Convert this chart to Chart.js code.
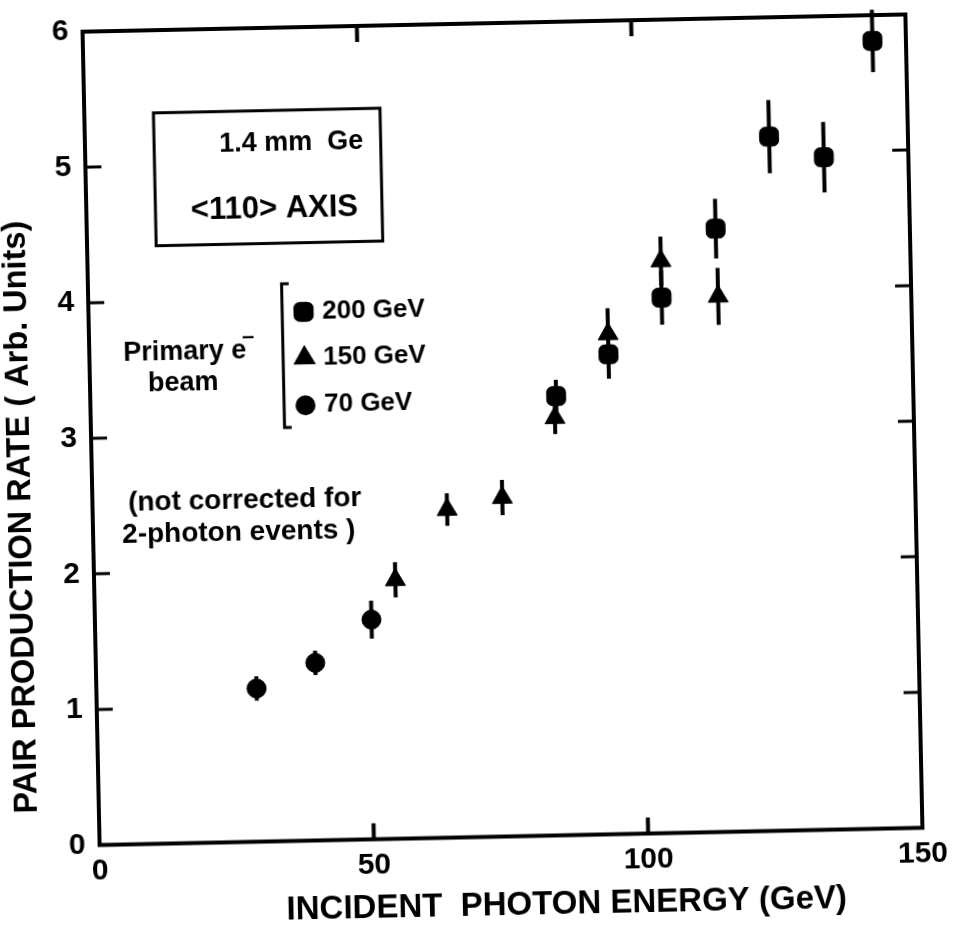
<!DOCTYPE html>
<html><head><meta charset="utf-8">
<script src="https://cdn.jsdelivr.net/npm/chart.js@4.4.1/dist/chart.umd.min.js"></script>
<style>
html,body{margin:0;padding:0;background:#fff;overflow:hidden;}
#wrap{position:absolute;left:0;top:0;width:970px;height:929px;transform:rotate(-1.2deg);transform-origin:502px 430px;}
canvas{display:block;}
</style></head><body>
<div id="wrap"><canvas id="c" width="970" height="929"></canvas></div>
<script>
// ---- data ----
const xTicks = [0, 50, 100, 150];
const yTicks = [0, 1, 2, 3, 4, 5, 6];

const energy200 = [84.9, 94.6, 104.5, 114.6, 124.7, 134.6, 143.9];
const rate200   = [3.24, 3.54, 3.95, 4.45, 5.12, 4.96, 5.81];
const err200    = [0.12, 0.18, 0.20, 0.22, 0.27, 0.26, 0.23];

const energy150 = [54.9, 64.6, 74.7, 84.6, 94.6, 104.5, 114.8];
const rate150   = [1.91, 2.42, 2.50, 3.08, 3.69, 4.22, 3.95];
const err150    = [0.13, 0.12, 0.13, 0.12, 0.19, 0.18, 0.21];

const energy70  = [29.2, 40.0, 50.4];
const rate70    = [1.13, 1.31, 1.62];
const err70     = [0.09, 0.09, 0.14];

const seriesLabels = ['200 GeV', '150 GeV', '70 GeV'];
const xTitle = 'INCIDENT  PHOTON ENERGY (GeV)';
const yTitle = 'PAIR PRODUCTION RATE ( Arb. Units)';

// ---- styling ----
const FONT = "'Liberation Sans', Arial, Helvetica, sans-serif";
const INK = '#000';

function pts(xs, ys){ return xs.map((x,i)=>({x:x, y:ys[i]})); }

const errMap = [err200, err150, err70];

const errorBars = {
  id:'errorBars',
  beforeDatasetsDraw(chart){
    const {ctx, scales:{x, y}} = chart;
    ctx.save();
    ctx.strokeStyle = INK; ctx.lineWidth = 4; ctx.lineCap = 'butt';
    chart.data.datasets.forEach((ds, di)=>{
      const errs = errMap[di];
      ds.data.forEach((p, i)=>{
        const px = x.getPixelForValue(p.x);
        ctx.beginPath();
        ctx.moveTo(px, y.getPixelForValue(p.y - errs[i]));
        ctx.lineTo(px, y.getPixelForValue(p.y + errs[i]));
        ctx.stroke();
      });
    });
    ctx.restore();
  }
};

const frame = {
  id:'frame',
  afterDraw(chart){
    const {ctx, chartArea:a, scales:{x, y}} = chart;
    ctx.save();
    ctx.strokeStyle = INK; ctx.lineWidth = 4; ctx.lineJoin = 'miter';
    ctx.strokeRect(a.left, a.top, a.right - a.left, a.bottom - a.top);
    ctx.lineWidth = 4;
    const L = 16;
    xTicks.forEach(v=>{
      if (v === x.min || v === x.max) return;
      const px = x.getPixelForValue(v);
      ctx.beginPath();
      ctx.moveTo(px, a.bottom); ctx.lineTo(px, a.bottom - L);
      ctx.moveTo(px, a.top); ctx.lineTo(px, a.top + L);
      ctx.stroke();
    });
    ctx.lineWidth = 3;
    yTicks.forEach(v=>{
      if (v === y.min || v === y.max) return;
      const py = y.getPixelForValue(v);
      ctx.beginPath();
      ctx.moveTo(a.left, py); ctx.lineTo(a.left + L, py);
      ctx.moveTo(a.right, py); ctx.lineTo(a.right - L, py);
      ctx.stroke();
    });
    ctx.restore();
  }
};

const notes = {
  id:'notes',
  afterDraw(chart){
    const {ctx, scales:{x, y}} = chart;
    const X = v => x.getPixelForValue(v), Y = v => y.getPixelForValue(v);
    ctx.save();
    ctx.fillStyle = INK; ctx.strokeStyle = INK;
    ctx.textBaseline = 'middle';

    // axis titles
    ctx.font = 'bold 33px ' + FONT;
    ctx.textAlign = 'center';
    ctx.fillText(xTitle, X(84.9), Y(-0.51));
    ctx.font = 'bold 32.5px ' + FONT;
    ctx.save();
    ctx.translate(X(-12.9), Y(2.43));
    ctx.rotate(-Math.PI/2);
    ctx.fillText(yTitle, 0, 0);
    ctx.restore();

    // sample box
    ctx.lineWidth = 3;
    ctx.strokeRect(X(12.6), Y(5.39), X(53.9) - X(12.6), Y(4.41) - Y(5.39));
    ctx.font = 'bold 27px ' + FONT;
    ctx.fillText('1.4 mm  Ge', X(37.6), Y(5.15));
    ctx.font = 'bold 31px ' + FONT;
    ctx.fillText('<110> AXIS', X(34.3), Y(4.66));

    // beam legend
    ctx.lineWidth = 3;
    ctx.beginPath();
    ctx.moveTo(X(36.6), Y(4.11)); ctx.lineTo(X(35.3), Y(4.11));
    ctx.lineTo(X(35.3), Y(3.05)); ctx.lineTo(X(36.6), Y(3.05));
    ctx.stroke();
    const styles = ['rectRounded', 'triangle', 'circle'];
    const radii = [10, 10, 8.5];
    const ly = [3.90, 3.56, 3.21];
    styles.forEach((s, i)=>{
      Chart.helpers.drawPoint(ctx, {pointStyle:s, radius:radii[i], rotation:0, borderWidth:1}, X(39.2), Y(ly[i]));
    });
    ctx.textAlign = 'left';
    ctx.font = 'bold 26px ' + FONT;
    seriesLabels.forEach((t, i)=>{ ctx.fillText(t, X(42.6), Y(ly[i])); });

    ctx.font = 'bold 27px ' + FONT;
    ctx.textAlign = 'center';
    const pe = 'Primary e';
    ctx.fillText(pe, X(17.4), Y(3.62));
    const w = ctx.measureText(pe).width;
    ctx.font = 'bold 22px ' + FONT;
    ctx.textAlign = 'left';
    ctx.fillText('\u2013', X(17.4) + w/2 - 4, Y(3.62) - 14);
    ctx.font = 'bold 27px ' + FONT;
    ctx.textAlign = 'center';
    ctx.fillText('beam', X(17.0), Y(3.39));

    ctx.font = 'bold 28px ' + FONT;
    ctx.textAlign = 'left';
    ctx.fillText('(not corrected for', X(6.5), Y(2.52));
    ctx.fillText('2-photon events )', X(5.3), Y(2.28));
    ctx.restore();
  }
};

new Chart(document.getElementById('c'), {
  type: 'scatter',
  data: {
    datasets: [
      {label: seriesLabels[0], data: pts(energy200, rate200), pointStyle: 'rectRounded', pointRadius: 11,
       backgroundColor: INK, borderColor: INK, borderWidth: 1},
      {label: seriesLabels[1], data: pts(energy150, rate150), pointStyle: 'triangle', pointRadius: 11.5,
       backgroundColor: INK, borderColor: INK, borderWidth: 1},
      {label: seriesLabels[2], data: pts(energy70, rate70), pointStyle: 'circle', pointRadius: 9.5,
       backgroundColor: INK, borderColor: INK, borderWidth: 1}
    ]
  },
  options: {
    responsive: false, animation: false, devicePixelRatio: 1,
    layout: {padding: {left: 0, top: 23, right: 56, bottom: 0}},
    plugins: {legend: {display: false}, tooltip: {enabled: false}},
    scales: {
      x: {
        type: 'linear', min: 0, max: 150,
        afterFit: a => { a.height = 92.5; },
        afterBuildTicks: a => { a.ticks = xTicks.map(v => ({value: v})); },
        grid: {display: false, drawTicks: false}, border: {display: false},
        ticks: {font: {family: FONT, size: 30, weight: 'bold'}, color: INK, padding: 8, maxRotation: 0, autoSkip: false}
      },
      y: {
        type: 'linear', min: 0, max: 6,
        afterFit: a => { a.width = 91; },
        afterBuildTicks: a => { a.ticks = yTicks.map(v => ({value: v})); },
        grid: {display: false, drawTicks: false}, border: {display: false},
        ticks: {font: {family: FONT, size: 30, weight: 'bold', lineHeight: 0.5}, color: INK, padding: 14, autoSkip: false}
      }
    }
  },
  plugins: [errorBars, frame, notes]
});
</script>
</body></html>
